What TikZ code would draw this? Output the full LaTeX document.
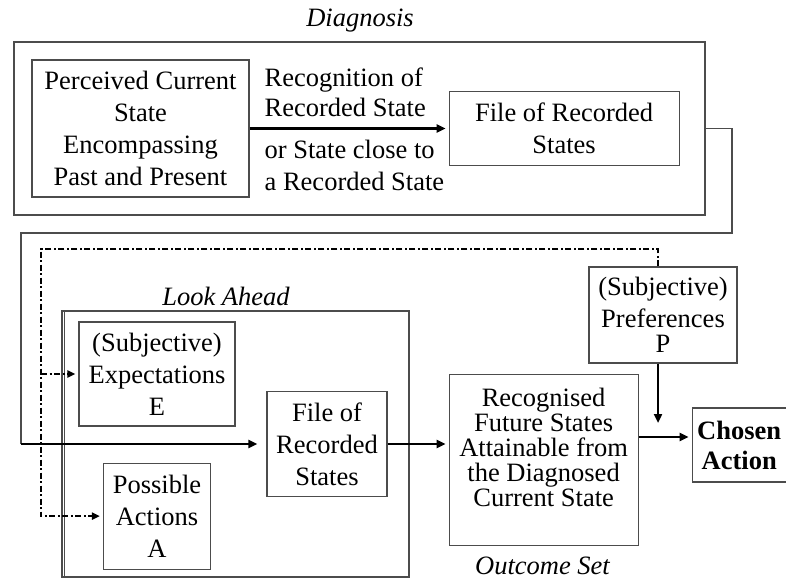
\documentclass[tikz,border=0pt]{standalone}
\usepackage{fontspec}
\setmainfont{Liberation Serif}
\usetikzlibrary{positioning,arrows.meta}

\begin{document}
\begin{tikzpicture}[x=1pt, y=-1pt]
    % Define Styles
        \tikzstyle{box} = [
            rectangle,
            draw = black!70,
            fill = white,
            align = center,
            line width = 1.1pt,
            inner sep = 1pt,
            font = \fontsize{26.5}{32}\selectfont
        ]
        \tikzstyle{stage} = [
            rectangle,
            draw = black!70,
            line width = 1.1pt
        ]
        \tikzstyle{stagetitle} = [
            anchor = base,
            inner sep = 0pt,
            font = \fontsize{26.5}{32}\selectfont\itshape
        ]
        \tikzstyle{arclabel} = [
            align = left,
            inner sep = 0pt,
            font = \fontsize{26.5}{30}\selectfont
        ]
        \tikzstyle{link} = [
            draw = black!70,
            line width = 1.1pt
        ]
        \tikzstyle{arr} = [
            draw,
            line width = 2.2pt,
            shorten >= 3pt,
            -{Triangle[length=9pt, width=8pt]}
        ]
        \tikzstyle{hint} = [
            draw,
            line width = 2pt,
            dash pattern = on 6pt off 2.5pt on 2pt off 2.5pt,
            shorten >= 3pt,
            -{Triangle[length=8pt, width=7pt]}
        ]
    \useasboundingbox (0,0) rectangle (786,583);
    % Place frames
        \node [stage, minimum width=691, minimum height=173] (diagnosis) at (359.5,128.5) {};
        \node [stage, minimum width=347, minimum height=266] (lookahead) at (235.5,444) {};
        \draw [link, line width=0.8pt] ([xshift=3pt]lookahead.north west) -- ([xshift=3pt]lookahead.south west);
        \node [stagetitle] (diagtitle) at (360,27) {Diagnosis};
        \node [stagetitle] (looktitle) at (226,305) {Look Ahead};
        \node [stagetitle] (outtitle) at (542.5,574) {Outcome Set};
    % Place nodes
        \node [box, minimum width=217, minimum height=137] (perceived) at (140.5,128.5) {%
            Perceived Current \\
            State \\
            Encompassing \\
            Past and Present
        };
        \node [box, minimum width=230, minimum height=74, right=199pt of perceived] (filetop) {%
            File of Recorded \\
            States
        };
        \node [box, minimum width=156, minimum height=104] (expect) at (157,374) {%
            (Subjective) \\
            Expectations \\
            E
        };
        \node [box, minimum width=107, minimum height=106, below=36pt of expect] (possible) {%
            Possible \\
            Actions \\
            A
        };
        \node [box, minimum width=120, minimum height=105] (filelow) at (327,444) {%
            File of \\
            Recorded \\
            States
        };
        \node [box, minimum width=189, inner ysep=13pt, text depth=26pt,
               font=\fontsize{26.5}{25}\selectfont,
               right=61pt of filelow, yshift=-16pt] (outcome) {%
            Recognised \\
            Future States \\
            Attainable from \\
            the Diagnosed \\
            Current State
        };
        \node [box, minimum width=148, minimum height=96] (prefs) at (663,315) {%
            (Subjective) \\
            Preferences \\[-7pt]
            P
        };
        \node [box, minimum width=94, minimum height=74, font=\fontsize{26.5}{30}\selectfont\bfseries,
               right=53pt of outcome, yshift=15pt] (chosen) {%
            Chosen \\
            Action
        };
    % Place turning points
        \coordinate (turn) at (732,233);
        \coordinate (entry) at (21,444);
        \coordinate (meet) at (658,437);
        \coordinate (hinttop) at (41,249);
    % Draw edges
        \path [arr] (perceived) -- (filetop)
            node [arclabel, pos=0, anchor=south west, xshift=14pt, yshift=11pt] {%
                Recognition of \\
                Recorded State
            }
            node [arclabel, pos=0, anchor=north west, xshift=14pt, yshift=-11pt, font=\fontsize{26.5}{32}\selectfont] {%
                or State close to \\
                a Recorded State
            };
        \path [link] (diagnosis.east) -| (turn) -| (entry);
        \path [arr, shorten >= 9pt] (entry) -- (filelow);
        \path [arr] (filelow) -- (filelow.east -| outcome.west);
        \path [arr] (outcome.east |- meet) -- (chosen.west |- meet);
        \path [arr, shorten >= 14pt] (prefs.south -| meet) -- (meet);
        \path [hint] (prefs.north -| meet) |- (hinttop) |- (possible.west);
        \path [hint] (hinttop |- expect.west) -- (expect.west);
\end{tikzpicture}
\end{document}
